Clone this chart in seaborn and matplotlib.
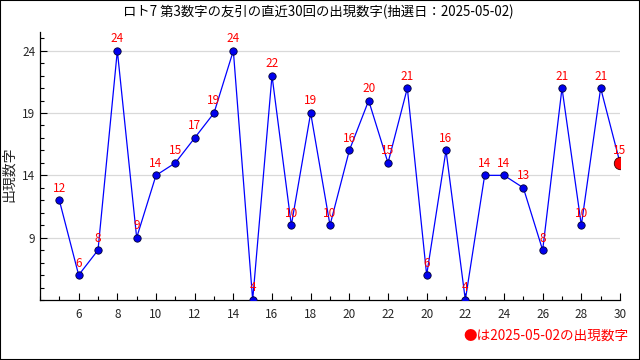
import matplotlib
matplotlib.use("Agg")
import matplotlib.pyplot as plt
import seaborn as sns
import pandas as pd
from matplotlib.ticker import MultipleLocator, FixedLocator, FixedFormatter

draw_index = list(range(1, 31))
values = [12, 6, 8, 24, 9, 14, 15, 17, 19, 24, 4, 22, 10, 19, 10,
          16, 20, 15, 21, 6, 16, 4, 14, 14, 13, 8, 21, 10, 21, 15]
tick_positions = list(range(2, 31, 2))
tick_labels = ["6", "8", "10", "12", "14", "16", "18", "20", "22",
               "20", "22", "24", "26", "28", "30"]
y_ticks = [9, 14, 19, 24]
title = "ロト7 第3数字の友引の直近30回の出現数字(抽選日：2025-05-02)"
ylabel = "出現数字"
note = "●は2025-05-02の出現数字"

sns.set_theme(style="white")
plt.rcParams['font.family'] = ['Noto Sans CJK JP', 'DejaVu Sans']

df = pd.DataFrame({"idx": draw_index, "val": values})

fig = plt.figure(figsize=(6.4, 3.6), dpi=100)
ax = fig.add_axes([40/640, 1-300/360, 580/640, 268/360])

for y in y_ticks:
    ax.axhline(y, color="#d9d9d9", lw=0.9, zorder=0)

sns.lineplot(data=df, x="idx", y="val", ax=ax, color="#0000ff", lw=0.9, zorder=2)
sns.scatterplot(data=df.iloc[:-1], x="idx", y="val", ax=ax, color="#0000ee",
                edgecolor="#000033", linewidth=0.6, s=28, zorder=3)
sns.scatterplot(data=df.iloc[-1:], x="idx", y="val", ax=ax, color="#ff0000",
                edgecolor="#330000", linewidth=0.6, s=80, zorder=4)

for x, v in zip(draw_index, values):
    ax.annotate(str(v), (x, v), xytext=(0, 4), textcoords="offset points",
                ha="center", va="bottom", color="#ff0000", fontsize=8.5, zorder=5)

ax.set_xlim(0, 30)
ax.set_ylim(4, 25.5)
ax.xaxis.set_major_locator(FixedLocator(tick_positions))
ax.xaxis.set_major_formatter(FixedFormatter(tick_labels))
ax.xaxis.set_minor_locator(MultipleLocator(1))
ax.yaxis.set_major_locator(FixedLocator(y_ticks))
ax.yaxis.set_minor_locator(MultipleLocator(1))
ax.tick_params(axis="both", which="both", direction="in", color="black",
               labelsize=8.5, bottom=True, left=True)
ax.tick_params(axis="both", which="major", length=5, width=0.8)
ax.tick_params(axis="both", which="minor", length=3, width=0.8)
ax.tick_params(axis="x", pad=6)
ax.set_xlabel("")
ax.set_ylabel(ylabel, fontsize=10)
ax.yaxis.set_label_coords(-24/580, 0.47)

for s in ["top", "right"]:
    ax.spines[s].set_visible(False)
for s in ["left", "bottom"]:
    ax.spines[s].set_color("black")
    ax.spines[s].set_linewidth(0.9)

fig.text(123/640, 1-12/360, title, ha="left", va="center", fontsize=9.6, color="black")
fig.text(628/640, 1-336/360, note, ha="right", va="center", fontsize=9.8, color="#ff0000")

border = plt.Rectangle((0, 0), 1, 1, transform=fig.transFigure, fill=False,
                       edgecolor="black", lw=1.5)
fig.patches.append(border)

fig.savefig("out.png", dpi=100)
